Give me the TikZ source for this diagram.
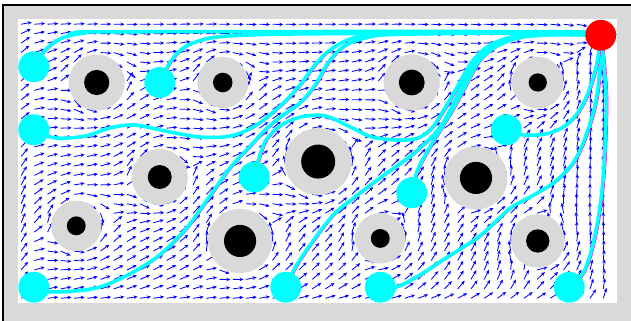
\documentclass[tikz,border=0pt]{standalone}
\usepackage{xcolor}
\usepackage{tikz}
\usetikzlibrary{arrows.meta,positioning,calc}
\definecolor{FieldBlue}{HTML}{0000FF}
\definecolor{RouteCyan}{HTML}{00FFFF}
\definecolor{RouteMagenta}{HTML}{FF00FF}
\definecolor{GoalRed}{HTML}{FF0000}
\definecolor{WallGray}{HTML}{D9D9D9}

\begin{document}
\begin{tikzpicture}[
    x=1cm,y=1cm,
    quiv/.style={-{Stealth[length=3.6pt,width=3.2pt]},color=FieldBlue,line width=0.75pt},
    route/.style={draw=RouteCyan,line width=3.2pt,line cap=round,
      preaction={draw=RouteMagenta,line width=0.7pt,transform canvas={xshift=1.7pt,yshift=-0.3pt}}},
    start/.style={circle,fill=RouteCyan,inner sep=0pt,minimum size=9.8mm},
    goal/.style={circle,fill=GoalRed,inner sep=0pt,minimum size=9.8mm}
  ]
  \clip (-0.571,-0.540) rectangle (19.460,9.619);
  % walls
  \fill[WallGray] (-0.476,-0.7) rectangle (19.7,9.460);
  \draw[line width=1.6pt] (-0.476,-0.7) rectangle (19.7,9.460);
  \fill[white] (0,0) rectangle (19,9);
  % guidance field
  \begin{scope}
    \clip (0,0) rectangle (19,9);
    \foreach \px in {0.1,0.52,...,18.9} {
      \foreach \py in {0.15,0.45,...,8.9} {
        \pgfmathsetmacro\fgx{18.5-\px}
        \pgfmathsetmacro\fgy{8.5-\py}
        \pgfmathsetmacro\fgd{max(veclen(\fgx,\fgy),0.05)}
        \pgfmathsetmacro\fux{\fgx/\fgd}
        \pgfmathsetmacro\fuy{\fgy/\fgd}
        \global\let\fvx\fux \global\let\fvy\fuy
        \foreach \ox/\oy/\orad in {2.5/7/0.89,6.5/7/0.81,12.5/7/0.89,16.5/7/0.82,
            4.5/4/0.89,9.53/4.49/1.06,14.54/3.97/1.0,1.85/2.45/0.8,
            7.05/1.97/1.02,11.5/2.05/0.8,16.5/1.97/0.85} {
          \pgfmathsetmacro\fdx{\px-\ox}
          \pgfmathsetmacro\fdy{\py-\oy}
          \pgfmathsetmacro\frr{max((\fdx)*(\fdx)+(\fdy)*(\fdy),\orad*\orad)}
          \pgfmathsetmacro\fkk{\orad*\orad/\frr/\frr}
          \pgfmathsetmacro\fqa{(\fdx)*(\fdx)-(\fdy)*(\fdy)}
          \pgfmathsetmacro\fqb{2*(\fdx)*(\fdy)}
          \pgfmathsetmacro\fnx{\fvx-\fkk*(\fux*(\fqa)+\fuy*(\fqb))}
          \pgfmathsetmacro\fny{\fvy-\fkk*(\fux*(\fqb)-\fuy*(\fqa))}
          \global\let\fvx\fnx \global\let\fvy\fny
        }
        \pgfmathsetmacro\fwx{\fvx*(1-exp(-min(\px,3)/0.4))*(1-exp(-min(19-\px,3)/0.4))}
        \pgfmathsetmacro\fwy{\fvy*(1-exp(-min(\py,3)/0.4))*(1-exp(-min(9-\py,3)/0.4))}
        \pgfmathsetmacro\fvl{max(veclen(\fwx,\fwy),0.0001)}
        \draw[quiv] (\px,\py) -- ++({0.34*\fwx/\fvl},{0.34*\fwy/\fvl});
      }
    }
  \end{scope}
  % obstacles
  \foreach \ox/\oy/\orad/\ocore in {2.5/7/0.89/0.40,6.5/7/0.81/0.31,12.5/7/0.89/0.41,
      16.5/7/0.82/0.29,4.5/4/0.89/0.38,9.53/4.49/1.06/0.54,14.54/3.97/1.0/0.51,
      1.85/2.45/0.8/0.30,7.05/1.97/1.02/0.51,11.5/2.05/0.8/0.30,16.5/1.97/0.85/0.37} {
    \fill[WallGray] (\ox,\oy) circle (\orad);
    \fill[black] (\ox,\oy) circle (\ocore);
  }
  % start and goal positions
  \coordinate (s1) at (0.5,7.5);
  \coordinate (s2) at (0.5,5.5);
  \coordinate (s3) at (4.5,7);
  \coordinate (s4) at (7.5,4);
  \coordinate (s5) at (12.5,3.5);
  \coordinate (s6) at (15.5,5.5);
  \coordinate (s7) at (0.5,0.5);
  \coordinate (s8) at (8.5,0.5);
  \coordinate (s9) at (11.5,0.5);
  \coordinate (s10) at (17.5,0.5);
  \coordinate (g) at (18.5,8.5);
  % routes
  \draw[route] plot[smooth,tension=0.55] coordinates {(s1) (0.86,8.03) (1.40,8.41) (2.13,8.57)
    (3.2,8.61) (17.6,8.61) (g)};
  \draw[route] plot[smooth,tension=0.55] coordinates {(s3) (4.83,7.65) (5.30,8.13) (6.10,8.41)
    (7.37,8.51) (10,8.55) (17.6,8.57) (g)};
  \draw[route] plot[smooth,tension=0.55] coordinates {(s2) (1.17,5.24) (2.13,5.30) (2.92,5.56)
    (3.71,5.65) (4.67,5.46) (5.78,5.27) (6.73,5.30) (7.52,5.62) (8.32,6.25) (8.95,6.92)
    (9.43,7.56) (9.90,8.03) (10.54,8.38) (11.33,8.54) (12.76,8.58) (17.6,8.58) (g)};
  \draw[route] plot[smooth,tension=0.55] coordinates {(s7) (1.02,0.35) (2.60,0.51) (4.19,1.30)
    (5.24,2.25) (6.00,3.27) (6.73,4.29) (7.37,4.98) (7.84,5.49) (8.32,5.90) (8.95,6.35)
    (9.43,6.92) (9.84,7.62) (10.32,8.13) (11.02,8.41) (12.13,8.53) (17.6,8.58) (g)};
  \draw[route] plot[smooth,tension=0.55] coordinates {(s4) (7.65,4.60) (7.87,5.17) (8.32,5.62)
    (8.95,5.90) (9.75,5.94) (10.54,5.59) (11.24,5.27) (12.13,5.17) (12.70,5.24) (13.14,5.56)
    (13.52,6.13) (13.94,6.86) (14.38,7.62) (14.89,8.13) (15.65,8.44) (16.73,8.54) (g)};
  \draw[route] plot[smooth,tension=0.55] coordinates {(s8) (8.79,1.11) (9.27,1.84) (10.0,2.79)
    (10.70,3.37) (11.49,3.97) (12.54,4.73) (13.30,5.46) (13.68,6.06) (14.06,6.83) (14.48,7.59)
    (14.98,8.06) (15.75,8.41) (16.73,8.54) (g)};
  \draw[route] plot[smooth,tension=0.55] coordinates {(s5) (12.67,4.19) (13.02,4.86) (13.46,5.59)
    (13.84,6.22) (14.22,6.92) (14.60,7.62) (15.11,8.10) (15.87,8.41) (16.89,8.51) (g)};
  \draw[route] plot[smooth,tension=0.55] coordinates {(s9) (12.03,0.51) (12.76,0.89) (13.49,1.37)
    (14.57,2.06) (15.21,2.63) (15.68,3.05) (16.48,3.49) (17.11,3.90) (17.68,4.54) (18.06,5.40)
    (18.35,6.44) (18.48,7.56) (g)};
  \draw[route] plot[smooth,tension=0.55] coordinates {(s10) (17.90,0.89) (18.16,1.52) (18.38,2.48)
    (18.54,3.59) (18.63,4.86) (18.67,6.44) (18.60,7.56) (g)};
  \draw[route] plot[smooth,tension=0.55] coordinates {(s6) (16.10,5.33) (16.89,5.40) (17.52,5.75)
    (18.0,6.44) (18.35,7.49) (g)};
  % markers
  \foreach \s in {1,...,10}
    \node[start] (start\s) at (s\s) {};
  \node[goal] (target) at (g) {};
\end{tikzpicture}
\end{document}
